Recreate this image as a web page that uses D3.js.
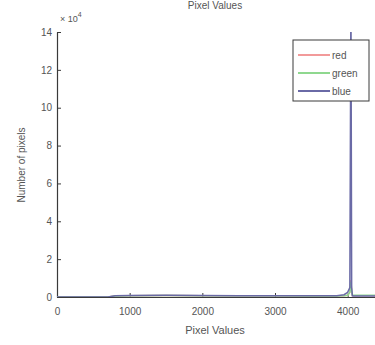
<!DOCTYPE html>
<html>
<head>
<meta charset="utf-8">
<script src="https://cdn.jsdelivr.net/npm/d3@7"></script>
<style>
  body { margin: 0; background: #fff; }
  svg { display: block; font-family: "Liberation Sans", Arial, sans-serif; }
</style>
</head>
<body>
<div id="container"></div>
<script>
// histogram of pixel values (counts)
var bins  = [0, 700, 800, 1000, 1500, 2000, 2500, 3000, 3500, 3850, 3950, 4000, 4030, 4045, 4055, 4065, 4080, 4200, 4500];
var red   = [0, 0, 500, 700, 800, 700, 600, 600, 500, 500, 600, 900, 2500, 9000, 3000, 800, 700, 700, 700];
var green = [0, 0, 500, 700, 800, 700, 600, 600, 500, 500, 600, 900, 2500, 8000, 3000, 900, 900, 900, 900];
var blue  = [0, 0, 600, 800, 900, 800, 700, 700, 600, 700, 1200, 2500, 5000, 160000, 5000, 600, 500, 500, 500];
var series = [
  { name: 'red',   values: red,   color: '#f29a9a' },
  { name: 'green', values: green, color: '#8fd88f' },
  { name: 'blue',  values: blue,  color: '#6a6aa6' }
];
var xTicks = [0, 1000, 2000, 3000, 4000];
var yTicks = [0, 2, 4, 6, 8, 10, 12, 14];

var W = 375, H = 345;
var svg = d3.select('#container').append('svg').attr('width', W).attr('height', H);

var x = d3.scaleLinear().domain([0, 4500]).range([57, 384]);
var y = d3.scaleLinear().domain([0, 14]).range([297, 32]);

var txt = '#555';
var axc = '#3a3a3a';

svg.append('defs').append('clipPath').attr('id', 'clip')
  .append('rect').attr('x', 57).attr('y', 32).attr('width', 330).attr('height', 265);

// axes (MATLAB style, ticks inward)
var xAxis = d3.axisBottom(x).tickValues(xTicks).tickFormat(d3.format('d'))
  .tickSizeInner(-4).tickSizeOuter(0).tickPadding(11);
var gx = svg.append('g').attr('transform', 'translate(0,297)').call(xAxis);
var yAxis = d3.axisLeft(y).tickValues(yTicks).tickSizeInner(-4).tickSizeOuter(0).tickPadding(5);
var gy = svg.append('g').attr('transform', 'translate(57,0)').call(yAxis);
[gx, gy].forEach(function(g) {
  g.select('.domain').attr('stroke', axc).attr('stroke-width', 1.2);
  g.selectAll('.tick line').attr('stroke', axc);
  g.selectAll('.tick text').attr('fill', txt).attr('font-size', 10).attr('font-family', '"Liberation Sans", Arial, sans-serif');
});

// lines
var line = d3.line().x(function(d, i) { return x(bins[i]); }).y(function(d) { return y(d / 1e4); });
svg.append('g').attr('clip-path', 'url(#clip)').selectAll('path').data(series).enter()
  .append('path')
  .attr('d', function(s) { return line(s.values); })
  .attr('fill', 'none')
  .attr('stroke', function(s) { return s.color; })
  .attr('stroke-width', 1.5);

// exponent label
var ex = svg.append('text').attr('x', 60).attr('y', 22).attr('fill', txt).attr('font-size', 9);
ex.append('tspan').text('\u00d7 10');
ex.append('tspan').attr('dy', -5).attr('font-size', 7).text('4');

// title and axis labels
svg.append('text').attr('x', 215).attr('y', 9).attr('text-anchor', 'middle')
  .attr('fill', txt).attr('font-size', 10).text('Pixel Values');
svg.append('text').attr('x', 215).attr('y', 334).attr('text-anchor', 'middle')
  .attr('fill', txt).attr('font-size', 11).text('Pixel Values');
svg.append('text').attr('transform', 'translate(25,165) rotate(-90)').attr('text-anchor', 'middle')
  .attr('fill', txt).attr('font-size', 10).text('Number of pixels');

// legend
var lg = svg.append('g');
lg.append('rect').attr('x', 293).attr('y', 40).attr('width', 76).attr('height', 61)
  .attr('fill', '#fff').attr('stroke', axc).attr('stroke-width', 1);
series.forEach(function(s, i) {
  var ly = 55 + i * 18;
  lg.append('line').attr('x1', 298).attr('x2', 330).attr('y1', ly).attr('y2', ly)
    .attr('stroke', s.color).attr('stroke-width', 2);
  lg.append('text').attr('x', 332).attr('y', ly + 3.5).attr('fill', txt).attr('font-size', 10).text(s.name);
});
</script>
</body>
</html>
